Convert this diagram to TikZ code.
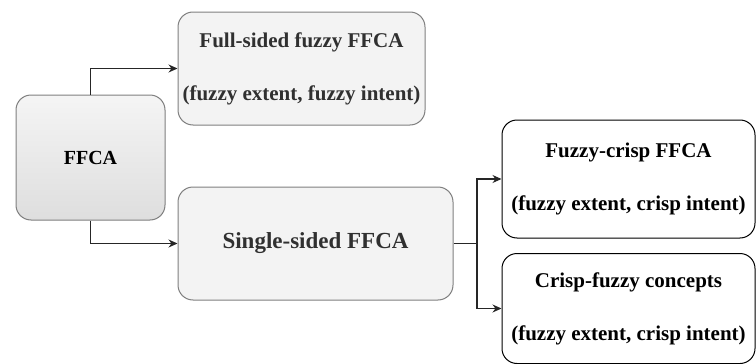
\documentclass[tikz,border=0pt]{standalone}
\usepackage{fontspec}
\setmainfont{Liberation Serif}
\usetikzlibrary{arrows.meta}
\definecolor{boxgray}{HTML}{F3F3F3}
\definecolor{edgegray}{HTML}{7F7F7F}
\definecolor{txtgray}{HTML}{303030}
\begin{document}
\begin{tikzpicture}[x=1pt,y=-1pt,
  graybox/.style={draw=edgegray, line width=1pt, fill=boxgray, rounded corners=15pt,
    text=txtgray, font=\bfseries\fontsize{21}{53}\selectfont, align=center, inner sep=0pt},
  whitebox/.style={draw=black, line width=1pt, fill=white, rounded corners=15pt,
    text=black, font=\bfseries\fontsize{21}{53}\selectfont, align=center, inner sep=0pt},
  conn/.style={draw=black!85, line width=1.2pt},
  arr/.style={conn, -{Stealth[length=9pt,width=8pt]}}]
\useasboundingbox (0,0) rectangle (756,364);
\node[graybox, top color=white!96!black, bottom color=white!87!black, text=black,
  font=\bfseries\fontsize{20}{24}\selectfont,
  minimum width=149pt, minimum height=125pt] (ffca) at (90.5,157.5) {FFCA};
\node[graybox, minimum width=247pt, minimum height=113pt] (full) at (301.5,68.5)
  {Full-sided fuzzy FFCA\\(fuzzy extent, fuzzy intent)};
\node[graybox, font=\bfseries\fontsize{23}{27}\selectfont,
  minimum width=275pt, minimum height=113pt] (single) at (315.5,243.5)
  {Single-sided FFCA};
\node[whitebox, minimum width=253pt, minimum height=118pt] (fc) at (628.5,179)
  {Fuzzy-crisp FFCA\\(fuzzy extent, crisp intent)};
\node[whitebox, minimum width=253pt, minimum height=110pt] (cf) at (628.5,308.5)
  {Crisp-fuzzy concepts\\(fuzzy extent, crisp intent)};
\coordinate (j) at (477,243.5);
\draw[arr] (ffca.north) |- (full.west);
\draw[arr] (ffca.south) |- (single.west);
\draw[conn] (single.east) -- (j);
\draw[arr] (j) |- (fc.west);
\draw[arr] (j) |- (cf.west);
\end{tikzpicture}
\end{document}
